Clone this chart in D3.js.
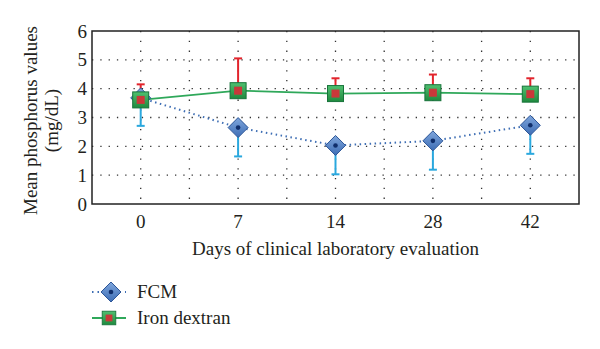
<!DOCTYPE html>
<html>
<head>
<meta charset="utf-8">
<script src="https://cdn.jsdelivr.net/npm/d3@7"></script>
<style>
  body { margin: 0; background: #fff; }
  text { font-family: "Liberation Serif", "DejaVu Serif", serif; fill: #231f20; }
</style>
</head>
<body>
<div id="chart"></div>
<script>
// data
const days = ["0", "7", "14", "28", "42"]
const fcmMean = [3.68, 2.65, 2.03, 2.19, 2.73]
const fcmLow = [2.71, 1.65, 1.03, 1.19, 1.74]
const ironMean = [3.61, 3.93, 3.83, 3.86, 3.81]
const ironHigh = [4.15, 5.05, 4.36, 4.49, 4.36]
const yTicks = [0, 1, 2, 3, 4, 5, 6]

let width = 600, height = 349
let margin = {top: 31, right: 21, bottom: 145, left: 92}
let w = width - margin.left - margin.right
let h = height - margin.top - margin.bottom
let fs = '19px'

let svg = d3.select('#chart').append('svg')
    .attr('width', width).attr('height', height)

let g = svg.append('g').attr('transform', "translate(" + margin.left + "," + margin.top + ")")

let x = d3.scaleBand().domain(days).range([0, w]).padding(0)
let y = d3.scaleLinear().domain([0, 6]).range([h, 0])
let cx = d => x(d) + x.bandwidth() / 2

// dotted grid
g.selectAll('.hgrid').data(yTicks.filter(t => t > 0 && t < 6)).enter()
    .append('line')
    .attr('x1', 0).attr('x2', w)
    .attr('y1', d => y(d)).attr('y2', d => y(d))
    .attr('stroke', '#333').attr('stroke-width', 1.3)
    .attr('stroke-dasharray', '1.3,7')

let vx = []
days.forEach((d, i) => {
    vx.push(cx(d))
    if (i > 0) vx.push(x(d))
})
g.selectAll('.vgrid').data(vx).enter()
    .append('line')
    .attr('x1', d => d).attr('x2', d => d)
    .attr('y1', 0).attr('y2', h)
    .attr('stroke', '#333').attr('stroke-width', 1.3)
    .attr('stroke-dasharray', '1.3,8.5')

// frame
g.append('rect').attr('width', w).attr('height', h)
    .attr('fill', 'none').attr('stroke', '#222').attr('stroke-width', 1.5)

// axes
let yAxis = g.append('g').call(d3.axisLeft(y).tickValues(yTicks).tickFormat(d3.format('d')).tickSize(0).tickPadding(5))
yAxis.select('.domain').remove()
yAxis.selectAll('text').style('font-size', fs).style('font-family', '"Liberation Serif", serif').attr('fill', '#231f20')

let xAxis = g.append('g').attr('transform', "translate(0," + h + ")")
    .call(d3.axisBottom(x).tickSize(0).tickPadding(11))
xAxis.select('.domain').remove()
xAxis.selectAll('text').style('font-size', fs).style('font-family', '"Liberation Serif", serif').attr('fill', '#231f20')

svg.append('text')
    .attr('x', margin.left + w / 2).attr('y', 255)
    .attr('text-anchor', 'middle').style('font-size', fs)
    .text('Days of clinical laboratory evaluation')

let yl = svg.append('text')
    .attr('transform', 'translate(37,' + (margin.top + h / 2 + 3) + ') rotate(-90)')
    .attr('text-anchor', 'middle').style('font-size', fs)
yl.append('tspan').attr('x', 0).attr('dy', 0).text('Mean phosphorus values')
yl.append('tspan').attr('x', 0).attr('dy', 21).text('(mg/dL)')

// gradients
let defs = svg.append('defs')
let gd = defs.append('linearGradient').attr('id', 'gBlue').attr('x1', 0).attr('y1', 0).attr('x2', 0).attr('y2', 1)
gd.append('stop').attr('offset', 0).attr('stop-color', '#7fa6dc')
gd.append('stop').attr('offset', 1).attr('stop-color', '#3d6db5')
let gg = defs.append('linearGradient').attr('id', 'gGreen').attr('x1', 0).attr('y1', 0).attr('x2', 0).attr('y2', 1)
gg.append('stop').attr('offset', 0).attr('stop-color', '#4fc070')
gg.append('stop').attr('offset', 1).attr('stop-color', '#1f8a3e')

// error bars
function errBars(vals, ends, color) {
    let eb = g.append('g')
    eb.selectAll('line.v').data(days).enter().append('line')
        .attr('x1', d => cx(d)).attr('x2', d => cx(d))
        .attr('y1', (d, i) => y(vals[i])).attr('y2', (d, i) => y(ends[i]))
        .attr('stroke', color).attr('stroke-width', 2)
    eb.selectAll('line.c').data(days).enter().append('line')
        .attr('x1', d => cx(d) - 4).attr('x2', d => cx(d) + 4)
        .attr('y1', (d, i) => y(ends[i])).attr('y2', (d, i) => y(ends[i]))
        .attr('stroke', color).attr('stroke-width', 2)
}
errBars(fcmMean, fcmLow, '#2aa8de')
errBars(ironMean, ironHigh, '#e2242c')

// lines
let line = d3.line().x(d => cx(d[0])).y(d => y(d[1]))
g.append('path').datum(days.map((d, i) => [d, fcmMean[i]]))
    .attr('d', line).attr('fill', 'none')
    .attr('stroke', '#3e6eb4').attr('stroke-width', 2).attr('stroke-dasharray', '1.5,3.5')
g.append('path').datum(days.map((d, i) => [d, ironMean[i]]))
    .attr('d', line).attr('fill', 'none')
    .attr('stroke', '#2fa85a').attr('stroke-width', 1.8)

function diamond(sel) {
    sel.append('path').attr('d', 'M0,-10L10,0L0,10L-10,0Z')
        .attr('fill', 'url(#gBlue)').attr('stroke', '#2c5597').attr('stroke-width', 1)
    sel.append('circle').attr('r', 2.3).attr('fill', '#0f2e6b')
}
function square(sel) {
    sel.append('rect').attr('x', -8).attr('y', -8).attr('width', 16).attr('height', 16)
        .attr('fill', 'url(#gGreen)').attr('stroke', '#17733a').attr('stroke-width', 1)
    sel.append('rect').attr('x', -4).attr('y', -4).attr('width', 8).attr('height', 8)
        .attr('fill', '#c9383a')
}

g.selectAll('.fcm').data(days).enter().append('g')
    .attr('transform', (d, i) => "translate(" + cx(d) + "," + y(fcmMean[i]) + ")")
    .call(diamond)
g.selectAll('.iron').data(days).enter().append('g')
    .attr('transform', (d, i) => "translate(" + cx(d) + "," + y(ironMean[i]) + ")")
    .call(square)

// legend
let leg = svg.append('g')
let l1 = leg.append('g').attr('transform', 'translate(0,292)')
l1.append('line').attr('x1', 92).attr('x2', 126).attr('stroke', '#3e6eb4')
    .attr('stroke-width', 2).attr('stroke-dasharray', '1.5,4')
l1.append('g').attr('transform', 'translate(111,0)').call(diamond)
l1.append('text').attr('x', 137).attr('y', 6).style('font-size', fs).text('FCM')

let l2 = leg.append('g').attr('transform', 'translate(0,318)')
l2.append('line').attr('x1', 92).attr('x2', 126).attr('stroke', '#2fa85a').attr('stroke-width', 1.8)
l2.append('g').attr('transform', 'translate(109,0) scale(0.85)').call(square)
l2.append('text').attr('x', 137).attr('y', 6).style('font-size', fs).text('Iron dextran')
</script>
</body>
</html>
